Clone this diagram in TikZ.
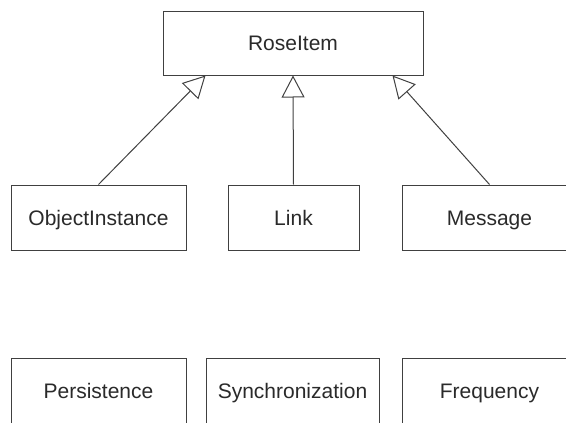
\documentclass[tikz,border=0pt]{standalone}
\usepackage{fontspec}
\setmainfont{Liberation Sans}
\usetikzlibrary{arrows.meta,calc}
\definecolor{ink}{HTML}{404040}
\definecolor{txt}{HTML}{2A2A2A}
\tikzset{
  classbox/.style={draw=ink, line width=1pt, fill=white, inner sep=0pt,
    minimum height=65pt, text=txt, text height=19pt, text depth=4pt,
    font=\fontsize{21}{24}\selectfont},
  inherit/.style={draw=ink, line width=1pt,
    -{Triangle[open, length=22pt, width=23pt]}}
}
\begin{document}
\begin{tikzpicture}[x=1pt, y=-1pt]
  \useasboundingbox (0,0) rectangle (566,423);

  % base class
  \node[classbox, minimum width=260pt, minimum height=64pt] (rose) at (293,43) {RoseItem};

  % derived classes
  \node[classbox, minimum width=175pt] (obj)  at (98.5,217.5)  {ObjectInstance};
  \node[classbox, minimum width=131pt] (link) at (293.5,217.5) {Link};
  \node[classbox, minimum width=175pt] (msg)  at (489.5,217.5) {Message};

  % unrelated classes
  \node[classbox, minimum width=175pt] (pers) at (98.5,390.5)  {Persistence};
  \node[classbox, minimum width=173pt] (sync) at (292.5,390.5) {Synchronization};
  \node[classbox, minimum width=175pt] (freq) at (489.5,390.5) {Frequency};

  % attachment points on the base class
  \coordinate (rose-l) at ($(rose.south west)+(43,0)$);
  \coordinate (rose-r) at ($(rose.south east)+(-31,0)$);

  % generalization arrows
  \draw[inherit] (obj.north)  -- (rose-l);
  \draw[inherit] (link.north) -- (rose.south);
  \draw[inherit] (msg.north)  -- (rose-r);
\end{tikzpicture}
\end{document}
